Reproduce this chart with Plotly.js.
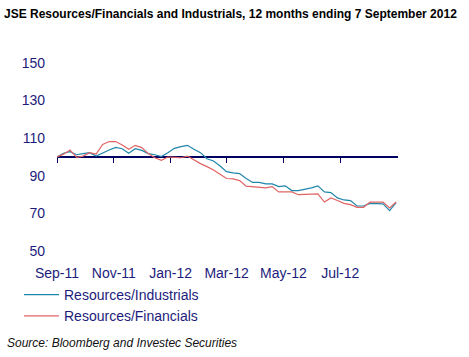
<!DOCTYPE html>
<html>
<head>
<meta charset="utf-8">
<script src="https://cdn.plot.ly/plotly-3.0.1.min.js"></script>
<style>html,body{margin:0;padding:0;background:#fff;}#chart{width:469px;height:357px;}</style>
</head>
<body>
<div id="chart"></div>
<script>
const dates = [
  "2011-09-07","2011-09-14","2011-09-21","2011-09-28","2011-10-05","2011-10-12","2011-10-19","2011-10-26",
  "2011-11-02","2011-11-09","2011-11-16","2011-11-23","2011-11-30","2011-12-07","2011-12-14","2011-12-21",
  "2011-12-28","2012-01-04","2012-01-11","2012-01-18","2012-01-25","2012-02-01","2012-02-08","2012-02-15",
  "2012-02-22","2012-02-29","2012-03-07","2012-03-14","2012-03-21","2012-03-28","2012-04-04","2012-04-11",
  "2012-04-18","2012-04-25","2012-05-02","2012-05-09","2012-05-16","2012-05-23","2012-05-30","2012-06-06",
  "2012-06-13","2012-06-20","2012-06-27","2012-07-04","2012-07-11","2012-07-18","2012-07-25","2012-08-01",
  "2012-08-08","2012-08-15","2012-08-22","2012-08-29","2012-09-05"
];
const resourcesIndustrials = [
  100, 102, 102.8, 101.2, 101.8, 102.3, 100.5, 102.3,
  103.7, 105.1, 104.4, 102, 104.4, 103.5, 101.8, 101.2,
  100.2, 102.3, 104.6, 105.5, 106.2, 104.1, 102.3, 99.1,
  97.9, 95.2, 92.2, 91.6, 91.2, 88.6, 86.5, 86.5,
  85.7, 85.7, 84.3, 84.7, 82.2, 82.2, 82.7, 83.6,
  84.7, 81.5, 81.1, 78.3, 77.2, 76.9, 74, 74,
  75.4, 75.4, 75.1, 71.5, 75.8
];
const resourcesFinancials = [
  100, 101.5, 103.7, 99.8, 100.5, 102.3, 101.6, 106.7,
  108.2, 108.2, 106.4, 104.1, 106.2, 105, 101.8, 99.6,
  98.2, 100, 99.8, 99.6, 100.5, 98.4, 96.5, 94.9,
  93.1, 90.8, 88.6, 88.4, 87.5, 84.5, 84.1, 83.9,
  83.6, 84.3, 81.5, 81.5, 81.5, 80, 80, 80,
  80.4, 76.1, 78.3, 76.9, 75.4, 74.7, 73.3, 73.3,
  76.1, 76.1, 76.1, 73, 76.1
];
const xTickVals = ["2011-09-07","2011-11-07","2012-01-07","2012-03-07","2012-05-07","2012-07-07"];
const xTickText = ["Sep-11","Nov-11","Jan-12","Mar-12","May-12","Jul-12"];
const yTickVals = [50, 70, 90, 110, 130, 150];
const xRange = ["2011-09-07","2012-09-07"];
const yRange = [48, 152];
const baseLevel = 100;

const navy = "#1c1c7c";
const font = "Arial, 'Liberation Sans', sans-serif";

const traces = [
  {x: dates, y: resourcesIndustrials, name: "Resources/Industrials", type: "scatter", mode: "lines",
   line: {color: "#1f86aa", width: 1.2}},
  {x: dates, y: resourcesFinancials, name: "Resources/Financials", type: "scatter", mode: "lines",
   line: {color: "#e06464", width: 1.2}},
  {x: [], y: [], xaxis: "x2", yaxis: "y", showlegend: false, hoverinfo: "skip", type: "scatter", mode: "lines"}
];

const layout = {
  width: 469, height: 357,
  margin: {l: 57, r: 71, t: 59, b: 102},
  paper_bgcolor: "#fff", plot_bgcolor: "#fff",
  font: {family: font, size: 14, color: navy},
  title: {text: "JSE Resources/Financials and Industrials, 12 months ending 7 September 2012",
          x: 4/469, xanchor: "left", y: 1 - 14/357, yanchor: "middle",
          font: {family: font, size: 12, color: "#000", weight: "bold"}},
  xaxis: {type: "date", range: xRange, anchor: "free",
          position: (baseLevel - yRange[0]) / (yRange[1] - yRange[0]),
          tickvals: xTickVals, showticklabels: false, layer: "below traces",
          showgrid: false, zeroline: false, showline: true, linecolor: "#000060", linewidth: 2,
          ticks: "outside", ticklen: 5, tickwidth: 1, tickcolor: "#000060"},
  xaxis2: {type: "date", overlaying: "x", matches: "x", anchor: "y", side: "bottom",
           range: xRange, tickvals: xTickVals, ticktext: xTickText,
           showgrid: false, zeroline: false, showline: false, ticks: "",
           tickfont: {family: font, size: 14, color: navy}, ticklabelstandoff: 8},
  yaxis: {range: yRange, tickvals: yTickVals, showgrid: false, zeroline: false, showline: false,
          ticks: "", tickfont: {family: font, size: 14, color: navy}, ticklabelstandoff: 11},
  showlegend: true,
  legend: {x: (19 - 57) / 341, xanchor: "left", y: (255 - 279) / 196, yanchor: "top",
           orientation: "v", font: {family: font, size: 14, color: navy},
           bgcolor: "rgba(0,0,0,0)", itemwidth: 35, tracegroupgap: 0},
  annotations: [
    {text: "<i>Source: Bloomberg and Investec Securities</i>", xref: "paper", yref: "paper",
     x: (5 - 57) / 341, xanchor: "left", y: (255 - 343) / 196, yanchor: "middle",
     showarrow: false, font: {family: font, size: 12, color: "#111"}}
  ]
};

Plotly.newPlot("chart", traces, layout, {displayModeBar: false, staticPlot: true});
</script>
</body>
</html>
